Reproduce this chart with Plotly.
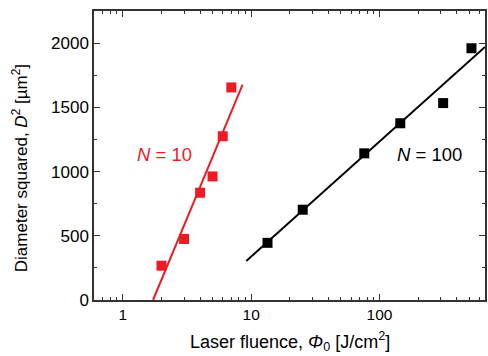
import plotly.graph_objects as go
import numpy as np

# N = 10 data
n10_x = [2, 3, 4, 5, 6, 7]
n10_y = [267, 475, 835, 962, 1275, 1655]
n10_fit_x = [1.72, 8.57]
n10_fit_y = [0, 1676]

# N = 100 data
n100_x = [13.4, 25.2, 76, 145, 313, 520]
n100_y = [445, 703, 1142, 1376, 1533, 1960]
n100_fit_x = [9.15, 663]
n100_fit_y = [304, 1970]

x_major = [1, 10, 100]
x_minor = [m * d for d in [0.1, 1, 10, 100] for m in range(2, 10)]
y_major = [0, 500, 1000, 1500, 2000]
y_minor = [250, 750, 1250, 1750, 2250]

RED = "#ED1C24"
FONT = "Liberation Sans, Arial, sans-serif"

fig = go.Figure()
fig.add_trace(go.Scatter(x=n10_fit_x, y=n10_fit_y, mode="lines",
                         line=dict(color=RED, width=2), showlegend=False))
fig.add_trace(go.Scatter(x=n10_x, y=n10_y, mode="markers",
                         marker=dict(symbol="square", size=10, color=RED), showlegend=False))
fig.add_trace(go.Scatter(x=n100_fit_x, y=n100_fit_y, mode="lines",
                         line=dict(color="black", width=2), showlegend=False))
fig.add_trace(go.Scatter(x=n100_x, y=n100_y, mode="markers",
                         marker=dict(symbol="square", size=10, color="black"), showlegend=False))

fig.update_layout(
    width=488, height=356,
    margin=dict(l=94, r=1, t=11, b=56),
    plot_bgcolor="white", paper_bgcolor="white",
    font=dict(family=FONT, color="black", size=16),
    xaxis=dict(
        type="log", range=[np.log10(0.596), np.log10(663)],
        tickmode="array", tickvals=x_major, ticktext=[str(v) for v in x_major],
        ticks="inside", ticklen=6, tickwidth=1.3, tickcolor="#333",
        showline=True, linecolor="#333", linewidth=1.5, mirror="ticks",
        showgrid=False, zeroline=False,
        tickfont=dict(size=15.5),
        minor=dict(tickmode="array", tickvals=x_minor, ticks="inside", ticklen=3,
                   tickwidth=1, tickcolor="#333", showgrid=False),
    ),
    yaxis=dict(
        range=[0, 2250],
        tickmode="array", tickvals=y_major, ticktext=[str(v) for v in y_major],
        ticks="inside", ticklen=6, tickwidth=1.3, tickcolor="#333",
        showline=True, linecolor="#333", linewidth=1.5, mirror="ticks",
        showgrid=False, zeroline=False,
        tickfont=dict(size=17),
        minor=dict(tickmode="array", tickvals=y_minor, ticks="inside", ticklen=3,
                   tickwidth=1, tickcolor="#333", showgrid=False),
    ),
    annotations=[
        dict(text="Laser fluence, <i>Φ</i><sub>0</sub> [J/cm<sup>2</sup>]",
             xref="paper", yref="paper", x=0.5, y=-0.095, xanchor="center", yanchor="top",
             showarrow=False, font=dict(size=18)),
        dict(text="Diameter squared, <i>D</i><sup>2</sup> [µm<sup>2</sup>]",
             xref="paper", yref="paper", x=-0.19, y=0.455, xanchor="center", yanchor="middle",
             textangle=-90, showarrow=False, font=dict(size=17)),
        dict(text="<i>N</i> = 10", x=np.log10(2.098), y=1136, xref="x", yref="y",
             showarrow=False, font=dict(size=18.5, color=RED)),
        dict(text="<i>N</i> = 100", x=np.log10(247), y=1136, xref="x", yref="y",
             showarrow=False, font=dict(size=18.5, color="black")),
    ],
)

fig.write_html("out.html")
